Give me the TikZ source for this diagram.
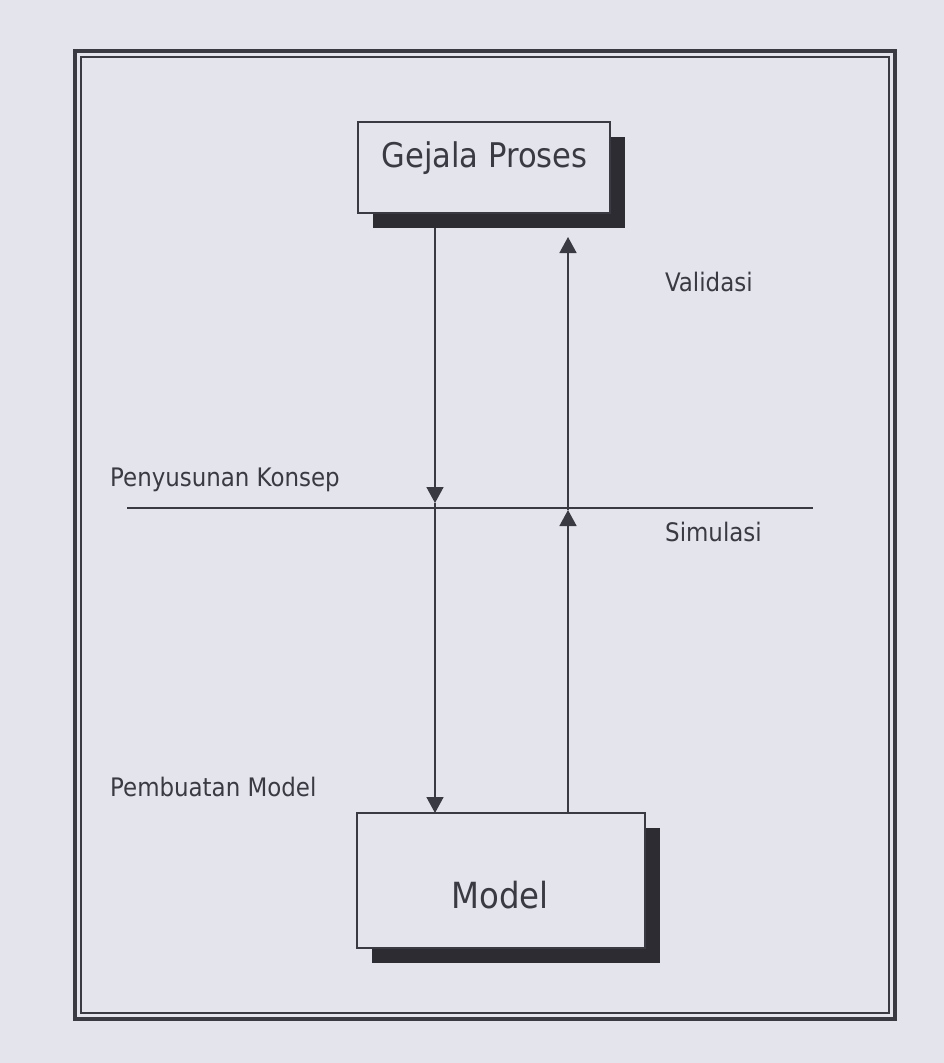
\documentclass[tikz,border=0pt]{standalone}
\usepackage{fontspec}
\setmainfont{DejaVu Sans Condensed}
\usetikzlibrary{arrows.meta,shadows}
\definecolor{paper}{HTML}{E4E4EC}
\definecolor{ink}{HTML}{3A3A42}
\definecolor{shade}{HTML}{2C2C32}
\begin{document}
\begin{tikzpicture}[x=1pt,y=-1pt,
  bigbox/.style={draw=ink, line width=2pt, fill=paper, inner sep=0pt, outer sep=0pt,
    drop shadow={shadow xshift=15pt, shadow yshift=-15pt, fill=shade, opacity=1}},
  boxtext/.style={text=ink, inner sep=0pt, anchor=base},
  lbl/.style={text=ink, inner sep=0pt, anchor=west, font=\fontsize{25.5}{28}\selectfont},
  conn/.style={draw=ink, line width=1.6pt},
  tip/.style={-{Triangle[length=16pt,width=17pt]}}]
\fill[paper] (0,0) rectangle (944,1063);
\useasboundingbox (0,0) rectangle (944,1063);
% frame
\draw[ink, line width=4pt] (75,51) rectangle (895,1019);
\draw[ink, line width=1.8pt] (81,57) rectangle (889,1013);
% boxes
\node[bigbox, minimum width=252pt, minimum height=91pt] (g) at (484,167.5) {};
\node[bigbox, minimum width=288pt, minimum height=135pt] (m) at (501,880.5) {};
\node[boxtext, font=\fontsize{34}{38}\selectfont] (gt) at (484.5,167) {Gejala Proses};
\node[boxtext, font=\fontsize{36}{40}\selectfont] (mt) at (500,908) {Model};
% coordinates
\coordinate (lx) at (435,0);
\coordinate (rx) at (568,0);
\coordinate (lmid) at (435,503);
\coordinate (rmid) at (568,510);
\coordinate (rtop) at (568,237);
\coordinate (hl) at (127,508);
\coordinate (hr) at (813,508);
% horizontal line
\draw[conn] (hl) -- (hr);
% left connector (down)
\draw[conn, tip] (g.south -| lx) ++(0,15) -- (lmid);
\draw[conn, tip] (lmid) -- (m.north -| lx);
% right connector (up)
\draw[conn, tip] (m.north -| rx) -- (rmid);
\draw[conn, tip] (rmid) -- (rtop);
% labels
\node[lbl] (vl) at (665,282) {Validasi};
\node[lbl] (pk) at (110,480) {Penyusunan Konsep};
\node[lbl] (sm) at (665,532) {Simulasi};
\node[lbl] (pm) at (110,787) {Pembuatan Model};
\end{tikzpicture}
\end{document}
